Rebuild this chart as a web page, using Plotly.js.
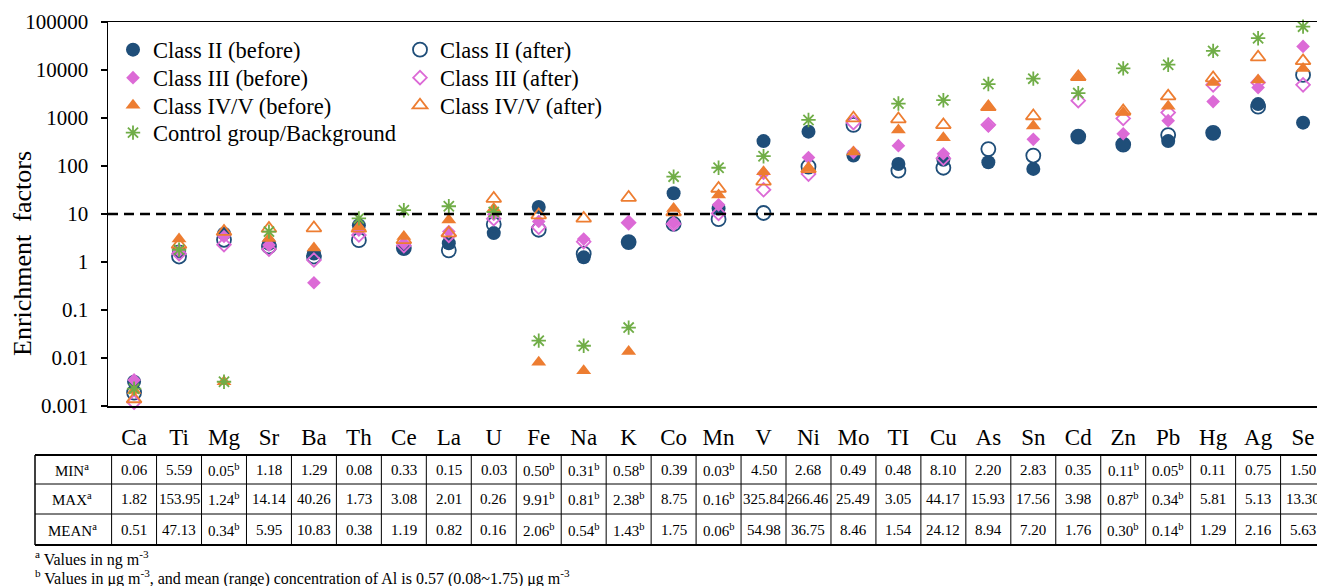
<!DOCTYPE html>
<html><head><meta charset="utf-8">
<script src="https://cdn.plot.ly/plotly-3.0.1.min.js"></script>
<style>html,body{margin:0;padding:0;background:#fff;overflow:hidden;} #chart{width:1317px;height:586px;}</style>
</head><body><div id="chart"></div>
<script>
// ---------------- data ----------------
const elements = ['Ca','Ti','Mg','Sr','Ba','Th','Ce','La','U','Fe','Na','K','Co','Mn','V','Ni','Mo','TI','Cu','As','Sn','Cd','Zn','Pb','Hg','Ag','Se'];

const classII_before  = [0.0032,1.65,3.9,2.4,1.5,5.8,1.95,2.45,4.0,14,1.25,2.6,27,13,330,520,165,110,135,120,87,410,285,330,480,1950,800];
const classII_after   = [0.0019,1.3,2.9,2.1,1.3,2.85,1.95,1.75,6.1,4.7,1.5,2.6,6.2,7.8,10.5,97,720,80,92,225,165,410,280,440,490,1720,7900];
const classIII_before = [0.0035,1.7,3.4,2.25,0.37,4.6,2.45,4.3,9.8,7.0,3.0,6.6,6.5,15.5,70,150,190,265,180,690,360,null,470,880,2200,4300,31000];
const classIII_after  = [0.0012,1.5,2.3,1.85,1.1,3.65,2.2,3.6,8.0,5.3,2.65,6.6,6.2,10.3,32,68,800,null,145,720,null,2300,980,1300,4900,5500,4900];
const classIVV_before = [0.0021,3.0,0.0032,3.1,1.95,5.4,3.4,7.5,13,0.0082,0.0054,0.0137,13,25,76,90,195,560,390,1650,680,6900,1300,1750,5500,6200,10800];
const classIVV_after  = [0.0014,2.3,4.3,5.0,5.1,5.0,2.9,4.0,21,9.5,8.1,22,11,34,48,87,990,950,720,1700,1100,7200,1400,2850,6800,18500,15500];
const control         = [0.0023,1.8,0.0032,4.3,null,8.1,12,14.5,11,0.023,0.018,0.043,60,92,160,910,null,2000,2350,5100,6600,3300,10800,12900,25000,46000,80000];

const yTickVals = [0.001,0.01,0.1,1,10,100,1000,10000,100000];
const yTickText = ['0.001','0.01','0.1','1','10','100','1000','10000','100000'];
const threshold = 10;
const yTitle = 'Enrichment\u00a0 factors';

const tableMin  = ['0.06','5.59','0.05','1.18','1.29','0.08','0.33','0.15','0.03','0.50','0.31','0.58','0.39','0.03','4.50','2.68','0.49','0.48','8.10','2.20','2.83','0.35','0.11','0.05','0.11','0.75','1.50'];
const tableMax  = ['1.82','153.95','1.24','14.14','40.26','1.73','3.08','2.01','0.26','9.91','0.81','2.38','8.75','0.16','325.84','266.46','25.49','3.05','44.17','15.93','17.56','3.98','0.87','0.34','5.81','5.13','13.30'];
const tableMean = ['0.51','47.13','0.34','5.95','10.83','0.38','1.19','0.82','0.16','2.06','0.54','1.43','1.75','0.06','54.98','36.75','8.46','1.54','24.12','8.94','7.20','1.76','0.30','0.14','1.29','2.16','5.63'];
const inMicrograms = elements.map(e => ['Mg','Fe','Na','K','Mn','Zn','Pb'].includes(e));
const rowLabels = ['MIN<sup>a</sup>','MAX<sup>a</sup>','MEAN<sup>a</sup>'];
const footnotes = ['<sup>a</sup> Values in ng m<sup>-3</sup>',
  '<sup>b</sup> Values in \u03bcg m<sup>-3</sup>, and mean (range) concentration of Al is 0.57 (0.08~1.75) \u03bcg m<sup>-3</sup>'];

// ---------------- styles ----------------
const SERIF = 'Liberation Serif, Times New Roman, serif';
const NAVY = '#1F4E79', PINK = '#DC6AD6', ORANGE = '#ED7D31', GREEN = '#70AD47';

// plot area geometry
const W = 1317, H = 586, ML = 108, MR = 0, MT = 22, MB = 180;
const PW = W - ML - MR, PH = H - MT - MB;
const px2paperX = p => (p - ML) / PW;
const px2paperY = p => (H - MB - p) / PH;

function tr(name, y, symbol, color, size, legend, lw) {
  return {
    type: 'scatter', mode: 'markers', name: name, x: elements, y: y,
    legend: legend, cliponaxis: false,
    marker: { symbol: symbol, color: color, size: size, line: { color: color, width: lw } }
  };
}
const data = [
  tr('Class II (before)', classII_before, 'circle', NAVY, 14, 'legend', 0),
  tr('Class II (after)', classII_after, 'circle-open', NAVY, 14, 'legend2', 1.8),
  tr('Class III (before)', classIII_before, 'diamond', PINK, 10.5, 'legend3', 0),
  tr('Class III (after)', classIII_after, 'diamond-open', PINK, 10.5, 'legend4', 1.8),
  tr('Class IV/V (before)', classIVV_before, 'triangle-up', ORANGE, 13, 'legend5', 0),
  tr('Class IV/V (after)', classIVV_after, 'triangle-up-open', ORANGE, 13, 'legend6', 1.8),
  tr('Control group/Background', control, 'asterisk-open', GREEN, 12, 'legend7', 1.8)
];

function leg(xpx, ypx) {
  return {
    x: px2paperX(xpx), y: px2paperY(ypx), xanchor: 'left', yanchor: 'middle',
    bgcolor: 'rgba(0,0,0,0)', borderwidth: 0, itemwidth: 30, tracegroupgap: 0,
    font: { family: SERIF, size: 22.5, color: '#000' }
  };
}

const shapes = [{
  type: 'line', xref: 'paper', x0: 0, x1: 1, yref: 'y', y0: threshold, y1: threshold,
  line: { color: '#000', width: 2.5, dash: '10px,6px' }
}];
const annotations = [{
  xref: 'paper', yref: 'paper', x: px2paperX(22), y: px2paperY(254), textangle: -90,
  text: yTitle, showarrow: false, xanchor: 'center', yanchor: 'middle',
  font: { family: SERIF, size: 26, color: '#000' }
}];

// table
const rowLines = [455, 484, 514, 545];
rowLines.forEach((p, i) => {
  shapes.push({ type: 'line', xref: 'paper', yref: 'paper', x0: px2paperX(35), x1: 1,
    y0: px2paperY(p), y1: px2paperY(p),
    line: { color: '#000', width: (i === 0 || i === rowLines.length - 1) ? 2 : 1 } });
});
shapes.push({ type: 'line', xref: 'paper', yref: 'paper', x0: px2paperX(35), x1: px2paperX(35),
  y0: px2paperY(455), y1: px2paperY(545), line: { color: '#000', width: 1.5 } });
elements.forEach((e, i) => {
  shapes.push({ type: 'line', xref: 'x', yref: 'paper', x0: i - 0.5, x1: i - 0.5,
    y0: px2paperY(455), y1: px2paperY(545), line: { color: '#000', width: 1 } });
});
const rowCenters = [469.5, 499, 529.5];
[tableMin, tableMax, tableMean].forEach((row, r) => {
  annotations.push({ xref: 'paper', yref: 'paper', x: px2paperX(72), y: px2paperY(rowCenters[r]),
    text: rowLabels[r], showarrow: false, xanchor: 'center', yanchor: 'middle',
    font: { family: SERIF, size: 15, color: '#000' } });
  row.forEach((v, i) => {
    annotations.push({ xref: 'x', yref: 'paper', x: elements[i], y: px2paperY(rowCenters[r]),
      text: v + (inMicrograms[i] ? '<sup>b</sup>' : ''), showarrow: false,
      xanchor: 'center', yanchor: 'middle',
      font: { family: SERIF, size: 15, color: '#000' } });
  });
});
footnotes.forEach((t, i) => {
  annotations.push({ xref: 'paper', yref: 'paper', x: px2paperX(33), y: px2paperY([558, 577][i]),
    text: t, showarrow: false, xanchor: 'left', yanchor: 'middle',
    font: { family: SERIF, size: 16, color: '#000' } });
});

const layout = {
  width: W, height: H,
  margin: { l: ML, r: MR, t: MT, b: MB, pad: 0 },
  paper_bgcolor: '#fff', plot_bgcolor: '#fff',
  font: { family: SERIF, color: '#000' },
  showlegend: true,
  xaxis: {
    type: 'category', categoryorder: 'array', categoryarray: elements,
    range: [-0.58, 26.31], showgrid: false, zeroline: false,
    showline: true, linecolor: '#000', linewidth: 1.5, mirror: true,
    ticks: '', ticklabelstandoff: 10,
    tickfont: { family: SERIF, size: 23, color: '#000' }, fixedrange: true
  },
  yaxis: {
    type: 'log', range: [-3, 5], showgrid: false, zeroline: false,
    showline: true, linecolor: '#000', linewidth: 1.5,
    ticks: 'outside', ticklen: 6, tickwidth: 1.5, tickcolor: '#000',
    tickvals: yTickVals, ticktext: yTickText, ticklabelstandoff: 8,
    tickfont: { family: SERIF, size: 21, color: '#000' },
    fixedrange: true
  },
  legend:  leg(113, 50),
  legend2: leg(400, 50),
  legend3: leg(113, 78),
  legend4: leg(400, 78),
  legend5: leg(113, 105.5),
  legend6: leg(400, 105.5),
  legend7: leg(113, 133),
  shapes: shapes,
  annotations: annotations
};

Plotly.newPlot('chart', data, layout, { displayModeBar: false, staticPlot: true });
</script>
</body></html>
